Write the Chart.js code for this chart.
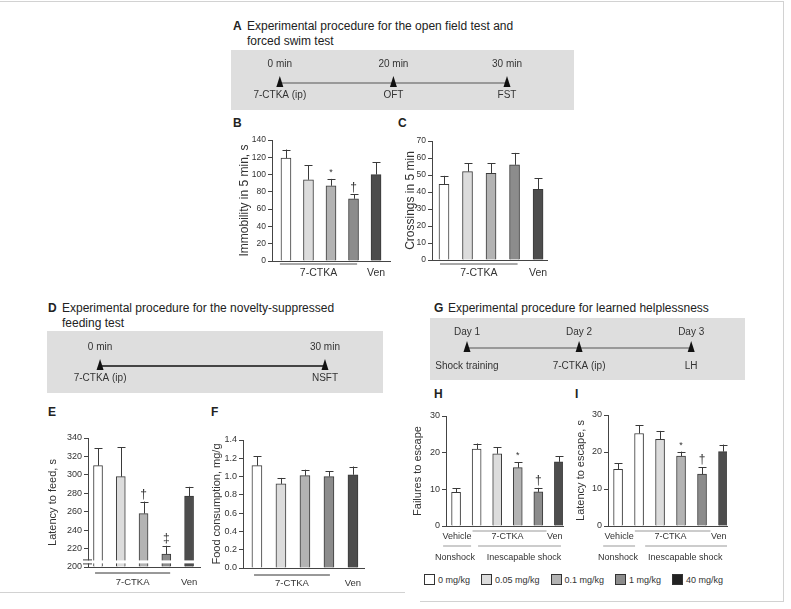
<!DOCTYPE html>
<html>
<head>
<meta charset="utf-8">
<script src="https://cdn.jsdelivr.net/npm/chart.js@4.4.1/dist/chart.umd.min.js"></script>
<style>
  html, body { margin: 0; padding: 0; background: #fff; }
  body { width: 791px; height: 609px; position: relative; overflow: hidden;
         font-family: "Liberation Sans", Arial, sans-serif; color: #222; }
  .abs { position: absolute; }
  .title { font-size: 12px; line-height: 15px; white-space: nowrap; }
  .title b { display: inline-block; width: 14px; }
  .title .l2 { padding-left: 14px; }
  .letter { font-size: 12px; font-weight: bold; line-height: 12px; }
  .box { background: #dedede; }
  .rule { background: #d2d2d2; }
  #legend { display: flex; align-items: center; font-size: 9px; white-space: nowrap; color: #333; }
  #legend span.sw { display: inline-block; width: 9px; height: 9px; border: 1px solid #333; margin-right: 3px; }
  #legend .item { display: flex; align-items: center; margin-right: 11px; }
</style>
</head>
<body>

<div class="abs rule" style="left:0;top:1px;width:784px;height:1px"></div>
<div class="abs rule" style="left:783px;top:1px;width:1px;height:601px"></div>
<div class="abs rule" style="left:0;top:592px;width:405px;height:1px"></div>
<div class="abs rule" style="left:420px;top:601px;width:364px;height:1px"></div>

<!-- A -->
<div class="abs title" style="left:233px;top:19px"><b>A</b>Experimental procedure for the open field test and<br><span class="l2">forced swim test</span></div>
<div class="abs box" style="left:231px;top:50px;width:343px;height:60px"></div>
<canvas id="tlA" class="abs" style="left:231px;top:50px" width="343" height="60"></canvas>

<div class="abs letter" style="left:233px;top:117px">B</div>
<canvas id="chartB" class="abs" style="left:233px;top:130px" width="163" height="160"></canvas>
<div class="abs letter" style="left:398px;top:117px">C</div>
<canvas id="chartC" class="abs" style="left:399px;top:131px" width="154" height="160"></canvas>

<!-- D -->
<div class="abs title" style="left:48px;top:301px"><b>D</b>Experimental procedure for the novelty-suppressed<br><span class="l2">feeding test</span></div>
<div class="abs box" style="left:47px;top:331px;width:336px;height:62px"></div>
<canvas id="tlD" class="abs" style="left:47px;top:331px" width="336" height="62"></canvas>

<div class="abs letter" style="left:48px;top:406px">E</div>
<canvas id="chartE" class="abs" style="left:42px;top:428px" width="162" height="163"></canvas>
<div class="abs letter" style="left:211px;top:406px">F</div>
<canvas id="chartF" class="abs" style="left:206px;top:430px" width="162" height="162"></canvas>

<!-- G -->
<div class="abs title" style="left:434px;top:301px"><b>G</b>Experimental procedure for learned helplessness</div>
<div class="abs box" style="left:430px;top:318px;width:315px;height:62px"></div>
<canvas id="tlG" class="abs" style="left:430px;top:318px" width="315" height="62"></canvas>

<div class="abs letter" style="left:434px;top:388px">H</div>
<canvas id="chartH" class="abs" style="left:407px;top:406px" width="159" height="160"></canvas>
<div class="abs letter" style="left:575px;top:388px">I</div>
<canvas id="chartI" class="abs" style="left:570px;top:405px" width="161" height="161"></canvas>

<div id="legend" class="abs" style="left:424px;top:574px"></div>

<script>
// ---- data ----
const doseLabels = ['0 mg/kg', '0.05 mg/kg', '0.1 mg/kg', '1 mg/kg', '40 mg/kg'];
const doseColors = ['#ffffff', '#dcdcdc', '#b3b3b3', '#8c8c8c', '#222222'];
const barColors5 = ['#ffffff', '#dcdcdc', '#b3b3b3', '#8c8c8c', '#4d4d4d'];
const barColors6 = ['#ffffff', '#ffffff', '#dcdcdc', '#b3b3b3', '#8c8c8c', '#4d4d4d'];

// B - forced swim test
const immobility = [119, 94, 87, 72, 100];
const immobilitySem = [10, 17, 8, 5, 14];
const immobilityMarks = ['', '', '*', '†', ''];

// C - open field test
const crossings = [44.5, 52, 51, 56, 41.5];
const crossingsSem = [5, 5, 6, 7, 6.5];

// E - novelty-suppressed feeding
const feedLatency = [310, 298, 258, 214, 277];
const feedLatencySem = [19, 32, 13, 9, 10];
const feedLatencyMarks = ['', '', '†', '‡', ''];

// F - food consumption
const foodIntake = [1.12, 0.92, 1.01, 1.0, 1.02];
const foodIntakeSem = [0.1, 0.065, 0.065, 0.06, 0.09];

// H - failures to escape
const failures = [9.2, 21, 19.7, 15.9, 9.3, 17.5];
const failuresSem = [1.1, 1.5, 1.8, 1.5, 1.1, 1.5];
const failuresMarks = ['', '', '', '*', '†', ''];

// I - latency to escape
const escapeLatency = [15.3, 25, 23.4, 18.9, 14, 20.1];
const escapeLatencySem = [1.6, 2.3, 2.3, 1.2, 1.9, 1.9];
const escapeLatencyMarks = ['', '', '', '*', '†', ''];

// timelines
const timeA = ['0 min', '20 min', '30 min'];
const stepA = ['7-CTKA (ip)', 'OFT', 'FST'];
const timeD = ['0 min', '30 min'];
const stepD = ['7-CTKA (ip)', 'NSFT'];
const timeG = ['Day 1', 'Day 2', 'Day 3'];
const stepG = ['Shock training', '7-CTKA (ip)', 'LH'];

const FONT = '"Liberation Sans", Arial, sans-serif';
const AX = '#444';

function barPanel(id, cfg) {
  const extras = {
    id: 'extras',
    afterDatasetsDraw(chart) {
      const ctx = chart.ctx;
      const ys = chart.scales.y, xs = chart.scales.x, area = chart.chartArea;
      const meta = chart.getDatasetMeta(0);
      ctx.save();
      // axis break
      if (cfg.breakAt) {
        const py = ys.getPixelForValue(cfg.breakAt);
        ctx.fillStyle = '#fff';
        ctx.fillRect(area.left - 5, py - 2, area.right - area.left + 5, 3);
        ctx.strokeStyle = AX; ctx.lineWidth = 1;
        ctx.beginPath();
        ctx.moveTo(area.left - 5, py - 2.5); ctx.lineTo(area.left + 4, py - 2.5);
        ctx.moveTo(area.left - 5, py + 1.5); ctx.lineTo(area.left + 4, py + 1.5);
        ctx.stroke();
      }
      // error bars (upper only)
      ctx.strokeStyle = '#3a3a3a'; ctx.lineWidth = 1;
      meta.data.forEach((bar, i) => {
        const top = ys.getPixelForValue(cfg.values[i] + cfg.sem[i]);
        const x = Math.round(bar.x) + 0.5;
        ctx.beginPath();
        ctx.moveTo(x, bar.y); ctx.lineTo(x, top);
        ctx.moveTo(x - 4, Math.round(top) + 0.5); ctx.lineTo(x + 4, Math.round(top) + 0.5);
        ctx.stroke();
        const m = cfg.marks ? cfg.marks[i] : '';
        if (m) {
          ctx.fillStyle = '#333';
          ctx.font = (m === '*' ? '9px ' : '12px ') + FONT;
          ctx.textAlign = 'center'; ctx.textBaseline = 'bottom';
          ctx.fillText(m, bar.x, top - (m === '*' ? 2 : 1));
        }
      });
      // group labels under the axis
      (cfg.groups || []).forEach(g => {
        const y = area.bottom;
        if (g.line) {
          ctx.strokeStyle = g.line.color; ctx.lineWidth = g.line.width;
          ctx.beginPath();
          ctx.moveTo(xs.getPixelForValue(g.line.from), y + g.line.dy);
          ctx.lineTo(xs.getPixelForValue(g.line.to), y + g.line.dy);
          ctx.stroke();
        }
        if (g.text) {
          ctx.fillStyle = '#333';
          ctx.font = cfg.labelSize + 'px ' + FONT;
          ctx.textAlign = 'center'; ctx.textBaseline = 'middle';
          ctx.fillText(g.text, xs.getPixelForValue(g.at), y + g.dy);
        }
      });
      ctx.restore();
    }
  };

  new Chart(document.getElementById(id), {
    type: 'bar',
    data: {
      datasets: [{
        data: cfg.values.map((v, i) => ({ x: i, y: v })),
        backgroundColor: cfg.colors,
        borderColor: '#3a3a3a',
        borderWidth: 1,
        barThickness: cfg.barWidth,
        base: cfg.yMin
      }]
    },
    options: {
      responsive: false,
      animation: false,
      layout: { padding: { top: 10, right: cfg.padRight, left: 0, bottom: 0 } },
      plugins: { legend: { display: false }, tooltip: { enabled: false } },
      scales: {
        x: {
          type: 'linear', min: cfg.xMin, max: cfg.xMax, offset: false,
          ticks: { display: false },
          grid: { display: false, offset: false },
          border: { color: AX },
          afterFit: s => { s.height = cfg.bottomH; }
        },
        y: {
          min: cfg.yMin, max: cfg.yMax,
          ticks: {
            stepSize: cfg.step, color: '#333', padding: 2,
            font: { family: FONT, size: cfg.tickSize },
            callback: v => cfg.decimals ? v.toFixed(cfg.decimals) : v
          },
          grid: { drawOnChartArea: false, tickLength: 4, color: AX },
          border: { color: AX },
          title: {
            display: true, text: cfg.title, color: '#333',
            font: { family: FONT, size: cfg.titleSize }, padding: { top: 4, bottom: 0 }
          },
          afterFit: s => { s.width = cfg.leftW; }
        }
      }
    },
    plugins: [extras]
  });
}

const ctkaRow = (a, b, dyLine, dyText, color, width) => [
  { line: { from: a, to: b, dy: dyLine, color: color, width: width }, text: '7-CTKA', at: (a + b) / 2, dy: dyText },
  { text: 'Ven', at: 4, dy: dyText }
];

barPanel('chartB', {
  values: immobility, sem: immobilitySem, marks: immobilityMarks, colors: barColors5,
  yMin: 0, yMax: 140, step: 20, title: 'Immobility in 5 min, s',
  xMin: -0.62, xMax: 4.62, leftW: 39, bottomH: 29, padRight: 6, barWidth: 10,
  tickSize: 8.5, titleSize: 12, labelSize: 10.5,
  groups: ctkaRow(-0.27, 3.16, 3, 12, '#a8a8a8', 2)
});

barPanel('chartC', {
  values: crossings, sem: crossingsSem, colors: barColors5,
  yMin: 0, yMax: 70, step: 10, title: 'Crossings in 5 min',
  xMin: -0.51, xMax: 4.38, leftW: 33, bottomH: 31, padRight: 6, barWidth: 10,
  tickSize: 8.5, titleSize: 12, labelSize: 10.5,
  groups: ctkaRow(-0.17, 3.13, 4, 13, '#a8a8a8', 2)
});

barPanel('chartE', {
  values: feedLatency, sem: feedLatencySem, marks: feedLatencyMarks, colors: barColors5,
  yMin: 200, yMax: 340, step: 20, title: 'Latency to feed, s', breakAt: 205,
  xMin: -0.44, xMax: 4.48, leftW: 46, bottomH: 24, padRight: 4, barWidth: 9,
  tickSize: 9, titleSize: 11, labelSize: 9.5,
  groups: ctkaRow(-0.13, 3.17, 6, 15, '#333', 1)
});

barPanel('chartF', {
  values: foodIntake, sem: foodIntakeSem, colors: barColors5,
  yMin: 0, yMax: 1.4, step: 0.2, decimals: 1, title: 'Food consumption, mg/g',
  xMin: -0.58, xMax: 4.46, leftW: 37, bottomH: 24, padRight: 4, barWidth: 10,
  tickSize: 9, titleSize: 11, labelSize: 9.5,
  groups: ctkaRow(-0.12, 3.04, 7, 15, '#333', 1)
});

const shockRows = (nonAt, nonLine, inAt, inLine) => [
  { text: 'Vehicle', at: 0.05, dy: 11 },
  { line: { from: 0.8, to: 4.4, dy: 5, color: '#999', width: 1 }, text: '7-CTKA', at: 2.5, dy: 11 },
  { text: 'Ven', at: 4.8, dy: 11 },
  { line: { from: nonLine[0], to: nonLine[1], dy: 20, color: '#999', width: 1 }, text: 'Nonshock', at: nonAt, dy: 32 },
  { line: { from: inLine[0], to: inLine[1], dy: 20, color: '#999', width: 1 }, text: 'Inescapable shock', at: inAt, dy: 32 }
];

barPanel('chartH', {
  values: failures, sem: failuresSem, marks: failuresMarks, colors: barColors6,
  yMin: 0, yMax: 30, step: 10, title: 'Failures to escape',
  xMin: -0.49, xMax: 5.2, leftW: 39, bottomH: 40, padRight: 3, barWidth: 9,
  tickSize: 9, titleSize: 11, labelSize: 9,
  groups: shockRows(-0.05, [-0.63, 0.73], 3.3, [1.07, 5.1])
});

barPanel('chartI', {
  values: escapeLatency, sem: escapeLatencySem, marks: escapeLatencyMarks, colors: barColors6,
  yMin: 0, yMax: 30, step: 10, title: 'Latency to escape, s',
  xMin: -0.48, xMax: 5.19, leftW: 38, bottomH: 40, padRight: 4, barWidth: 9,
  tickSize: 9, titleSize: 11, labelSize: 9,
  groups: shockRows(0, [-0.71, 0.81], 3.2, [1.29, 5.19])
});

// timelines
function timeline(id, cfg) {
  const marks = {
    id: 'marks',
    afterDatasetsDraw(chart) {
      const ctx = chart.ctx;
      const meta = chart.getDatasetMeta(0);
      ctx.save();
      ctx.font = '10px ' + FONT;
      ctx.textAlign = 'center'; ctx.textBaseline = 'middle';
      meta.data.forEach((p, i) => {
        ctx.fillStyle = '#111';
        ctx.beginPath();
        ctx.moveTo(p.x, p.y - 7);
        ctx.lineTo(p.x + 3.5, p.y + 4);
        ctx.lineTo(p.x - 3.5, p.y + 4);
        ctx.closePath();
        ctx.fill();
        ctx.fillStyle = '#333';
        ctx.fillText(cfg.top[i], p.x, p.y + cfg.topDy);
        ctx.fillText(cfg.bottom[i], p.x, p.y + cfg.botDy);
      });
      ctx.restore();
    }
  };
  const h = document.getElementById(id).height;
  new Chart(document.getElementById(id), {
    type: 'scatter',
    data: {
      datasets: [{
        data: cfg.top.map((t, i) => ({ x: i, y: 0 })),
        showLine: true, borderColor: cfg.lineColor, borderWidth: cfg.lineWidth,
        pointRadius: 0
      }]
    },
    options: {
      responsive: false, animation: false,
      layout: { padding: 0 },
      plugins: { legend: { display: false }, tooltip: { enabled: false } },
      scales: {
        x: { type: 'linear', display: false, min: cfg.xMin, max: cfg.xMax },
        y: { display: false, min: -(h - cfg.lineY), max: cfg.lineY }
      }
    },
    plugins: [marks]
  });
}

timeline('tlA', { top: timeA, bottom: stepA, xMin: -0.43, xMax: 2.59, lineY: 33, topDy: -19, botDy: 12,
  lineColor: '#555', lineWidth: 1 });
timeline('tlD', { top: timeD, bottom: stepD, xMin: -0.236, xMax: 1.258, lineY: 35, topDy: -19, botDy: 12,
  lineColor: '#111', lineWidth: 1.5 });
timeline('tlG', { top: timeG, bottom: stepG, xMin: -0.33, xMax: 2.48, lineY: 30, topDy: -16, botDy: 18,
  lineColor: '#555', lineWidth: 1 });

// legend
const legend = document.getElementById('legend');
doseLabels.forEach((lab, i) => {
  const item = document.createElement('div');
  item.className = 'item';
  const sw = document.createElement('span');
  sw.className = 'sw';
  sw.style.background = doseColors[i];
  item.appendChild(sw);
  item.appendChild(document.createTextNode(lab));
  legend.appendChild(item);
});
</script>
</body>
</html>
